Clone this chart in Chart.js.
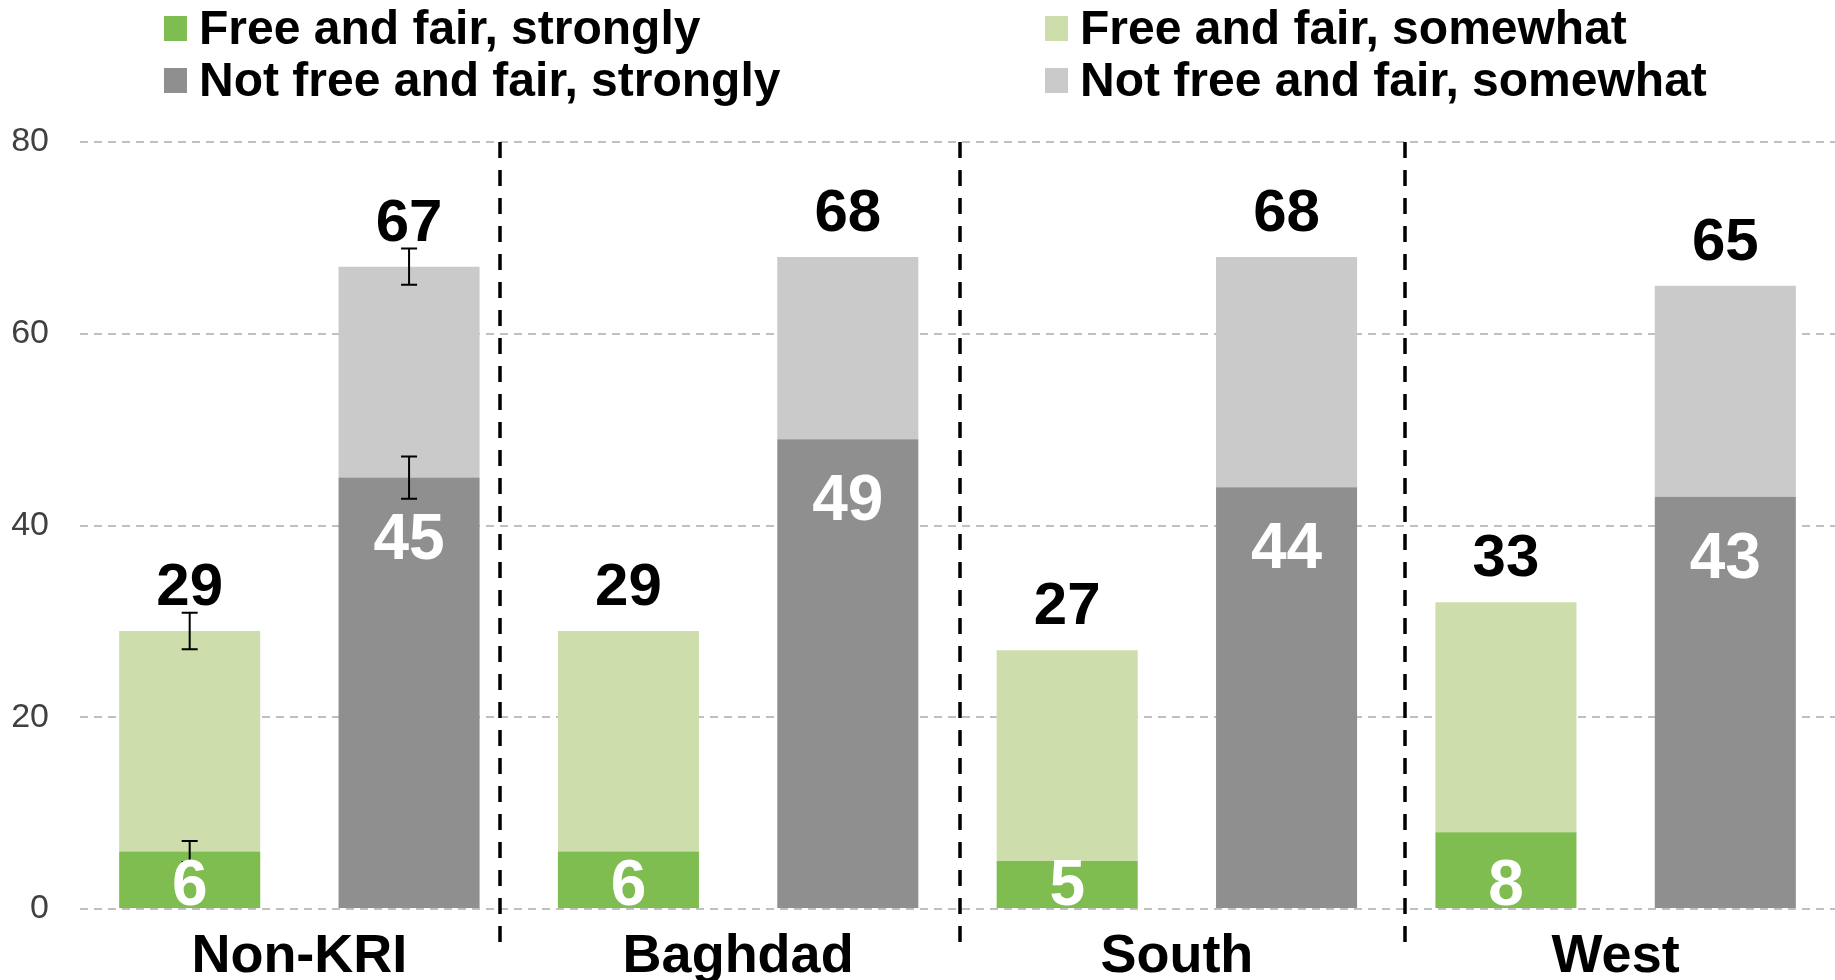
<!DOCTYPE html>
<html>
<head>
<meta charset="utf-8">
<script src="https://cdn.jsdelivr.net/npm/chart.js@4.4.1/dist/chart.umd.min.js"></script>
<style>
  body { margin: 0; background: #fff; overflow: hidden; }
  #wrap { position: relative; width: 1835px; height: 1000px; }
  #legend { position: absolute; left: 0; top: 0; width: 1835px; height: 120px; }
  .item { position: absolute; display: flex; align-items: center; white-space: nowrap;
          font: bold 48px "Liberation Sans", Arial, sans-serif; line-height: 48px; color: #000; }
  .box { width: 23px; height: 25px; margin-right: 12px; }
</style>
</head>
<body>
<div id="wrap">
  <canvas id="chart"></canvas>
  <div id="legend"></div>
</div>
<script>
var regions = ["Non-KRI", "Baghdad", "South", "West"];
var freeStrongly = [6, 6, 5, 8];
var freeSomewhat = [23, 23, 22, 24];
var notStrongly = [45, 49, 44, 43];
var notSomewhat = [22, 19, 24, 22];
// printed totals (West "free" bar is drawn at 32 but printed as 33)
var freeTotals = [29, 29, 27, 33];
var notTotals = [67, 68, 68, 65];
// error bars, only shown for Non-KRI
var freeStronglyErr = [1.1, null, null, null];
var freeTotalErr = [1.9, null, null, null];
var notStronglyErr = [2.2, null, null, null];
var notTotalErr = [1.9, null, null, null];
var yTicks = [0, 20, 40, 60, 80];
// dashed separators, in category units
var dividerAt = [0.457, 1.506, 2.52];

var sans = '"Liberation Sans", Arial, sans-serif';

var colors = {
  freeStrongly: "#7fbd50",
  freeSomewhat: "#cddeac",
  notStrongly: "#8f8f8f",
  notSomewhat: "#cacaca"
};

var errs = [freeStronglyErr, freeTotalErr, notStronglyErr, notTotalErr];

var extras = {
  id: 'extras',
  afterDatasetsDraw: function(chart) {
    var ctx = chart.ctx;
    var xs = chart.scales.x, ys = chart.scales.y;
    var area = chart.chartArea;

    // dashed separators between regions
    ctx.save();
    ctx.strokeStyle = "#000";
    ctx.lineWidth = 3.5;
    ctx.setLineDash([16, 12]);
    dividerAt.forEach(function(v) {
      var px = Math.round(xs.getPixelForValue(v));
      ctx.beginPath();
      ctx.moveTo(px, area.top);
      ctx.lineTo(px, area.bottom + 33);
      ctx.stroke();
    });
    ctx.restore();

    // error bars
    ctx.save();
    ctx.strokeStyle = "#000";
    ctx.lineWidth = 2;
    chart.data.datasets.forEach(function(ds, di) {
      var meta = chart.getDatasetMeta(di);
      errs[di].forEach(function(e, i) {
        if (e == null) return;
        var bar = meta.data[i];
        var d = ys.getPixelForValue(0) - ys.getPixelForValue(e);
        ctx.beginPath();
        ctx.moveTo(bar.x, bar.y - d); ctx.lineTo(bar.x, bar.y + d);
        ctx.moveTo(bar.x - 8, bar.y - d); ctx.lineTo(bar.x + 8, bar.y - d);
        ctx.moveTo(bar.x - 8, bar.y + d); ctx.lineTo(bar.x + 8, bar.y + d);
        ctx.stroke();
      });
    });
    ctx.restore();

    // labels
    ctx.save();
    ctx.textAlign = "center";
    ctx.textBaseline = "alphabetic";
    var base = ys.getPixelForValue(0);
    [0, 2].forEach(function(di) {
      var meta = chart.getDatasetMeta(di);
      var vals = chart.data.datasets[di].data;
      ctx.fillStyle = "#fff";
      ctx.font = "bold 64px " + sans;
      meta.data.forEach(function(bar, i) {
        var yy = Math.min(bar.y + 81, base - 4);
        ctx.fillText(vals[i], bar.x, yy);
      });
    });
    [[1, freeTotals], [3, notTotals]].forEach(function(p) {
      var meta = chart.getDatasetMeta(p[0]);
      ctx.fillStyle = "#000";
      ctx.font = "bold 60px " + sans;
      meta.data.forEach(function(bar, i) {
        ctx.fillText(p[1][i], bar.x, bar.y - 26);
      });
    });
    ctx.restore();
  }
};

var chart = new Chart(document.getElementById("chart"), {
  type: 'bar',
  data: {
    labels: regions,
    datasets: [
      { label: "Free and fair, strongly", data: freeStrongly, stack: "free", backgroundColor: colors.freeStrongly },
      { label: "Free and fair, somewhat", data: freeSomewhat, stack: "free", backgroundColor: colors.freeSomewhat },
      { label: "Not free and fair, strongly", data: notStrongly, stack: "not", backgroundColor: colors.notStrongly },
      { label: "Not free and fair, somewhat", data: notSomewhat, stack: "not", backgroundColor: colors.notSomewhat }
    ]
  },
  options: {
    responsive: true,
    maintainAspectRatio: false,
    animation: false,
    datasets: { bar: { barPercentage: 0.643, categoryPercentage: 1.0 } },
    layout: { padding: { top: 142, left: 12, right: 0, bottom: 16 } },
    plugins: { legend: { display: false }, tooltip: { enabled: false } },
    scales: {
      x: {
        stacked: true,
        afterFit: function(s) { s.height = 75; },
        grid: { display: false, drawTicks: false },
        border: { display: false },
        ticks: { color: "#000", padding: 21, font: { family: sans, size: 54, weight: 'bold', lineHeight: 1 } }
      },
      y: {
        stacked: true,
        min: 0,
        max: 80,
        afterFit: function(s) { s.width = 68; },
        afterBuildTicks: function(s) { s.ticks = yTicks.map(function(v) { return { value: v }; }); },
        grid: { color: "#c0c0c0", lineWidth: 2, drawTicks: false },
        border: { display: false, dash: [8, 6] },
        ticks: { color: "#404040", padding: 31, font: { family: sans, size: 34 } }
      }
    }
  },
  plugins: [extras]
});

// legend laid out as a 2x2 block like the original
var legendPos = [[164, 4], [1045, 4], [164, 56], [1045, 56]];
var legend = document.getElementById("legend");
chart.data.datasets.forEach(function(ds, k) {
  var item = document.createElement("div");
  item.className = "item";
  item.style.left = legendPos[k][0] + "px";
  item.style.top = legendPos[k][1] + "px";
  var box = document.createElement("span");
  box.className = "box";
  box.style.background = ds.backgroundColor;
  item.appendChild(box);
  item.appendChild(document.createTextNode(ds.label));
  legend.appendChild(item);
});
</script>
</body>
</html>
